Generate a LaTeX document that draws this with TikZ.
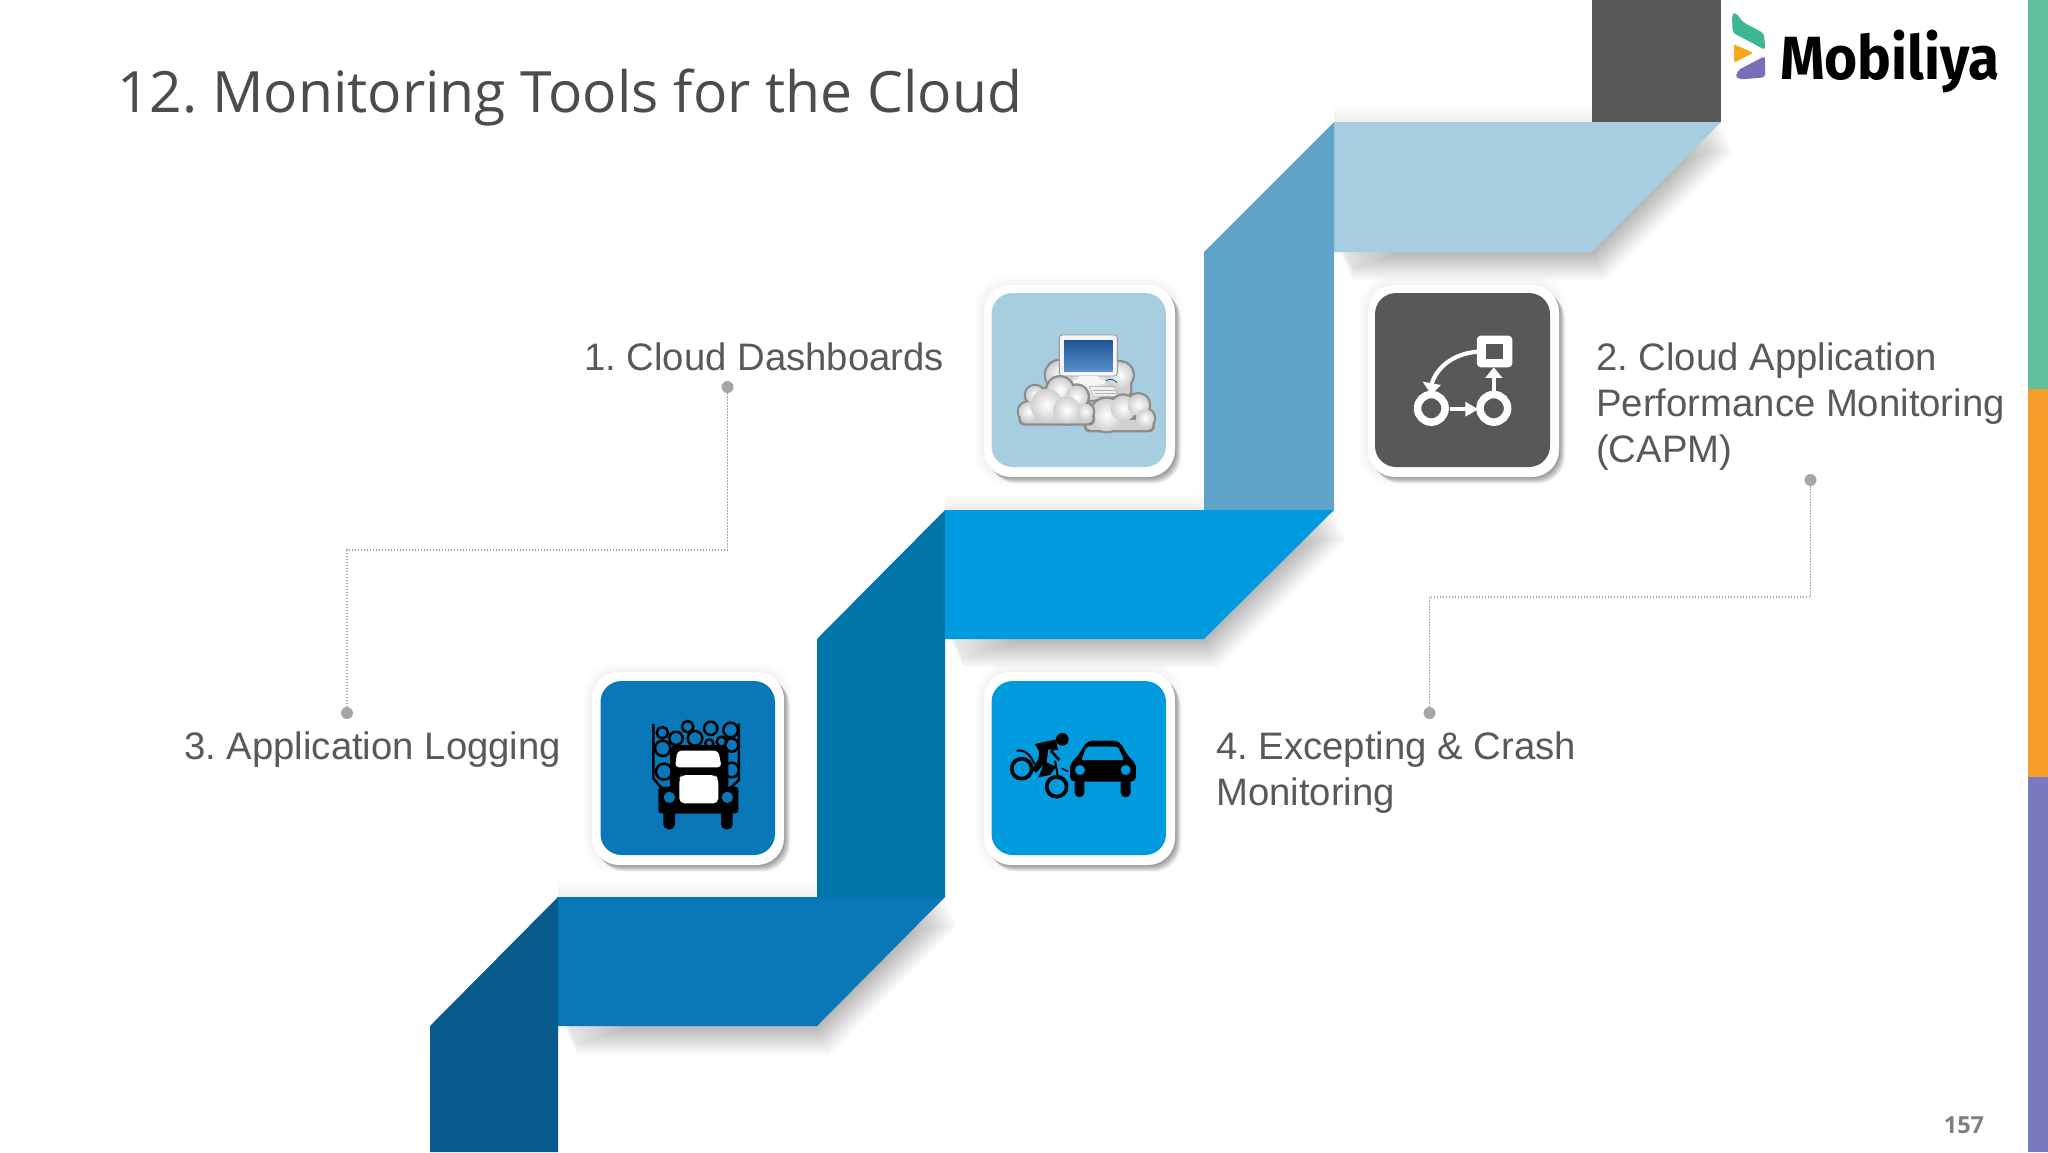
\documentclass[tikz,border=0pt]{standalone}
\usepackage{fontspec}
\setmainfont{Liberation Sans}
\newfontfamily\titlefont{Open Sans}
\newfontfamily\logofont{Fira Sans}
\definecolor{cgray}{HTML}{585858}
\definecolor{clight}{HTML}{A6CDE0}
\definecolor{cmid}{HTML}{60A3C8}
\definecolor{cbright}{HTML}{009ADF}
\definecolor{cdark}{HTML}{0075A9}
\definecolor{cband}{HTML}{0878B8}
\definecolor{cdeep}{HTML}{075A8B}
\definecolor{cline}{HTML}{A6A6A6}
\definecolor{ctext}{HTML}{595959}
\definecolor{sgreen}{HTML}{5FBF9B}
\definecolor{sorange}{HTML}{F59C2A}
\definecolor{spurple}{HTML}{7A78C0}
\definecolor{lgreen}{HTML}{3DB894}
\definecolor{lorange}{HTML}{F5A81C}
\definecolor{lpurple}{HTML}{7670B8}
\definecolor{cloudedge}{HTML}{8C8C8C}
\definecolor{cloudmid}{HTML}{D0D0D0}
\definecolor{screentop}{HTML}{1F5596}
\definecolor{screenlow}{HTML}{5A8FCC}
\tikzset{
  labeltext/.style={font=\frenchspacing\fontsize{38.3}{45.7}\selectfont,text=ctext,align=left,anchor=north west,inner sep=0pt},
  dot/.style={circle,fill=cline,minimum size=12pt,inner sep=0pt},
  leader/.style={draw=cline,line width=1.6pt,dash pattern=on 1.5pt off 1.5pt},
  cardout/.style={fill=white,rounded corners=27pt},
  cardin/.style={rounded corners=21pt},
  zoomA/.style={shift={(960,270)},x=0.3954pt,y=-0.3333pt},
  zoomC/.style={shift={(1580,0)},x=0.3333pt,y=-0.3333pt},
  third/.style={x=0.3333pt,y=-0.3333pt},
}
\newcommand{\softshadow}[1]{%
  \foreach \k in {1,...,18}{
    \fill[black,opacity=0.014,shift={(\k*0.7,\k*1.6)}] #1;
  }}
\newcommand{\topshadow}[3]{%
  \foreach \k in {1,...,8}{
    \fill[black,opacity=0.007] (#1,#3-\k*2) rectangle (#2,#3);
  }}
\newcommand{\cardshadow}[4]{%
  \foreach \k in {1,...,6}{
    \fill[black,opacity=0.006,rounded corners=30pt]
      (#1-\k*1.5,#2-\k*1.5) rectangle (#3+\k*1.5,#4+\k*1.5);
  }
  \foreach \k in {1,...,7}{
    \fill[black,opacity=0.06,rounded corners=27pt]
      (#1+\k*0.8,#2+\k*0.9) rectangle (#3+\k*0.8,#4+\k*0.9);
  }}
% circles x/y/r, then base rectangle x1,y1,x2,y2
\newcommand{\cloudblob}[5]{%
  \foreach \x/\y/\r in {#1}{\fill[cloudedge] (\x,\y) circle ({\r+7});}
  \fill[cloudedge,rounded corners=6pt] (#2-7,#3-7) rectangle (#4+7,#5+7);
  \fill[cloudmid,rounded corners=5pt] (#2,#3) rectangle (#4,#5);
  \foreach \x/\y/\r in {#1}{\fill[cloudmid] (\x,\y) circle (\r);}
  \foreach \x/\y/\r in {#1}{\shade[inner color=white,outer color=cloudmid] (\x,\y) circle (\r);}
}
\begin{document}
\begin{tikzpicture}[x=1pt,y=-1pt]
\useasboundingbox (0,0) rectangle (2048,1152);
\fill[white] (0,0) rectangle (2048,1152);
% side strip
\fill[sgreen] (2028,0) rectangle (2048,389);
\fill[sorange] (2028,389) rectangle (2048,777);
\fill[spurple] (2028,777) rectangle (2048,1152);
% ribbon shadows
\topshadow{1334}{1592}{122}
\topshadow{945}{1204}{510}
\topshadow{558}{817}{897}
\softshadow{(1340,240) -- (1340,252) -- (1592,252) -- (1721,122) -- (1700,122) -- cycle}
\softshadow{(950,630) -- (950,639) -- (1204,639) -- (1334,510) -- (1310,510) -- cycle}
\softshadow{(564,1016) -- (564,1026) -- (817,1026) -- (945,897) -- (920,897) -- cycle}
% ribbon
\fill[cgray] (1592,0) rectangle (1721,122);
\fill[clight] (1334,122) -- (1721,122) -- (1592,252) -- (1334,252) -- cycle;
\fill[cmid] (1204,252) -- (1334,122) -- (1334,510) -- (1204,510) -- cycle;
\fill[cbright] (945,510) -- (1334,510) -- (1204,639) -- (945,639) -- cycle;
\fill[cdark] (817,639) -- (945,510) -- (945,897) -- (817,897) -- cycle;
\fill[cband] (558,897) -- (945,897) -- (817,1026) -- (558,1026) -- cycle;
\fill[cdeep] (430,1026) -- (558,897) -- (558,1152) -- (430,1152) -- cycle;
% cards
\cardshadow{984}{285}{1175}{477}
\fill[cardout] (984,285) rectangle (1175,477);
\fill[clight,cardin] (991.5,293) rectangle (1166,467);
\cardshadow{1368}{285}{1559}{477}
\fill[cardout] (1368,285) rectangle (1559,477);
\fill[cgray,cardin] (1375,293) rectangle (1550,467);
\cardshadow{592}{672}{784}{865}
\fill[cardout] (592,672) rectangle (784,865);
\fill[cband,cardin] (600.5,681) rectangle (775,855);
\cardshadow{984}{672}{1175}{865}
\fill[cardout] (984,672) rectangle (1175,865);
\fill[cbright,cardin] (991.5,681) rectangle (1166,855);
% icon 1: computer and clouds
\begin{scope}[shift={(1010,330)},third]
  \cloudblob{150/135/42,330/135/38,240/150/60}{120}{140}{360}{200}
  \fill[white!92!gray,draw=black!40,line width=.9pt,rounded corners=3pt] (148,15) rectangle (322,138);
  \shade[top color=screentop,bottom color=screenlow] (162,30) rectangle (308,124);
  \fill[white!93!gray] (208,138) -- (262,138) -- (270,150) -- (200,150) -- cycle;
  \fill[white!93!gray,rounded corners=2pt] (188,150) rectangle (285,162);
  \fill[white!88!gray,draw=black!35,line width=.4pt] (238,170) -- (312,170) -- (326,198) -- (250,198) -- cycle;
  \draw[black!30,line width=.5pt] (250,180) -- (316,180) (256,189) -- (320,189);
  \draw[blue!50!cyan!70!black,line width=.8pt] (288,152) .. controls (300,145) and (312,148) .. (322,158);
  \cloudblob{290/255/48,340/235/38,385/225/32,405/265/27}{228}{270}{428}{300}
  \cloudblob{75/195/27,150/180/38,200/200/33,55/245/28,225/245/24,110/225/48,170/240/40}{32}{250}{248}{280}
\end{scope}
% icon 2: flow
\begin{scope}[zoomA,white]
  \fill[rounded corners=4pt] (1307,197) rectangle (1397,292);
  \fill[cgray] (1330,222) rectangle (1374,268);
  \draw[line width=4.2pt] (1310,245) .. controls (1250,250) and (1205,290) .. (1192,345);
  \fill (1170,335) -- (1216,345) -- (1192,374) -- cycle;
  \draw[line width=7.5pt] (1192,415) circle (13.8pt);
  \draw[line width=7.5pt] (1350,415) circle (13.8pt);
  \draw[line width=4.2pt] (1238,418) -- (1282,418);
  \fill (1278,395) -- (1310,418) -- (1278,440) -- cycle;
  \draw[line width=4.2pt] (1350,372) -- (1350,318);
  \fill (1328,324) -- (1372,324) -- (1350,292) -- cycle;
\end{scope}
% icon 3: logging truck
\begin{scope}[shift={(640,710)},third,black]
  \foreach \x/\y/\r in {67/68/17,108/85/20,143/50/17,165/85/22,212/55/20,272/60/22,245/95/15,208/100/12,68/115/23,275/105/20,72/185/24,275/180/22}{
    \draw[line width=2.5pt] (\x,\y) circle (\r);}
  \draw[line width=2.5pt] (40,42) -- (40,205) -- (65,235);
  \draw[line width=2.5pt] (297,40) -- (297,210) -- (270,235);
  \fill[rounded corners=6pt] (90,105) rectangle (265,310);
  \fill[rounded corners=3pt] (55,230) rectangle (295,310);
  \fill[rounded corners=5pt] (70,290) rectangle (105,358);
  \fill[rounded corners=5pt] (243,290) rectangle (278,358);
  \fill[white,rounded corners=4pt] (112,122) -- (235,122) -- (245,172) -- (105,172) -- cycle;
  \fill[white,rounded corners=5pt] (125,195) -- (225,195) -- (235,205) -- (235,280) -- (118,280) -- (118,205) -- cycle;
  \fill[cband] (88,262) circle (17) (262,262) circle (17);
\end{scope}
% icon 4: crash
\begin{scope}[shift={(1000,720)},third,black]
  \fill[rounded corners=5pt] (262,62) -- (358,62) -- (385,110) -- (408,130) -- (408,185) -- (210,185) -- (210,130) -- (232,110) -- cycle;
  \fill[rounded corners=5pt] (224,175) rectangle (253,232);
  \fill[rounded corners=5pt] (362,175) rectangle (392,232);
  \fill[cbright,rounded corners=2pt] (260,80) -- (354,80) -- (372,120) -- (244,120) -- cycle;
  \fill[cbright] (240,150) circle (15) (377,150) circle (15);
  \draw[line width=3.7pt] (65,146) circle (30);
  \draw[line width=3.7pt] (170,200) circle (30);
  \fill (187,58) circle (19);
  \fill (105,72) -- (168,58) -- (174,90) -- (145,88) -- (140,125) -- (108,158) -- (95,148) -- (115,118) -- (118,95) -- cycle;
  \draw[line width=2.6pt] (165,75) -- (155,95) -- (178,120);
  \fill (115,172) -- (135,125) -- (168,140) -- (150,165) -- cycle;
  \draw[line width=2pt] (165,122) -- (175,178);
  \draw[line width=1.5pt] (185,145) -- (205,155);
  \draw[line width=2pt] (50,92) .. controls (75,88) and (92,105) .. (103,132);
\end{scope}
% logo
\begin{scope}[zoomC]
  \fill[lgreen,rounded corners=3pt] (456,45) -- (466,37) -- (490,67) -- (552,100) -- (556,150) -- (492,116) -- (458,98) -- cycle;
  \fill[lorange,rounded corners=2pt] (461,133) -- (520,158) -- (463,188) -- cycle;
  \fill[lpurple,rounded corners=3pt] (466,232) -- (475,210) -- (555,168) -- (555,232) -- (485,238) -- cycle;
  \node[inner sep=0pt,anchor=base west] (logo) at (600,238) {\scalebox{0.93}[1]{\logofont\bfseries\fontsize{61}{61}\selectfont Mobiliya}};
\end{scope}
% title and numbers
\node[font=\titlefont\frenchspacing\fontsize{57}{60}\selectfont,text=black!70,anchor=base west,inner sep=0pt] (title) at (117,112) {12. Monitoring Tools for the Cloud};
\node[font=\titlefont\bfseries\fontsize{23.5}{24}\selectfont,text=black!50,inner sep=0pt] (pagenum) at (1964,1125) {157};
% labels
\node[labeltext] (l1) at (584,343) {1. Cloud Dashboards};
\node[labeltext] (l2) at (1596,343) {2. Cloud Application\\Performance Monitoring\\(CAPM)};
\node[labeltext] (l3) at (184,732) {3. Application Logging};
\node[labeltext] (l4) at (1216,732) {4. Excepting \& Crash\\Monitoring};
% leaders
\node[dot] (d1) at (727.5,387) {};
\node[dot] (d3) at (347,713) {};
\node[dot] (d2) at (1810.5,480) {};
\node[dot] (d4) at (1429.5,713) {};
\coordinate (a1) at (727.5,550);
\coordinate (a3) at (347,550);
\coordinate (a2) at (1810.5,597);
\coordinate (a4) at (1429.5,597);
\draw[leader] (d1) -- (a1) -- (a3) -- (d3);
\draw[leader] (d2) -- (a2) -- (a4) -- (d4);
\end{tikzpicture}
\end{document}
